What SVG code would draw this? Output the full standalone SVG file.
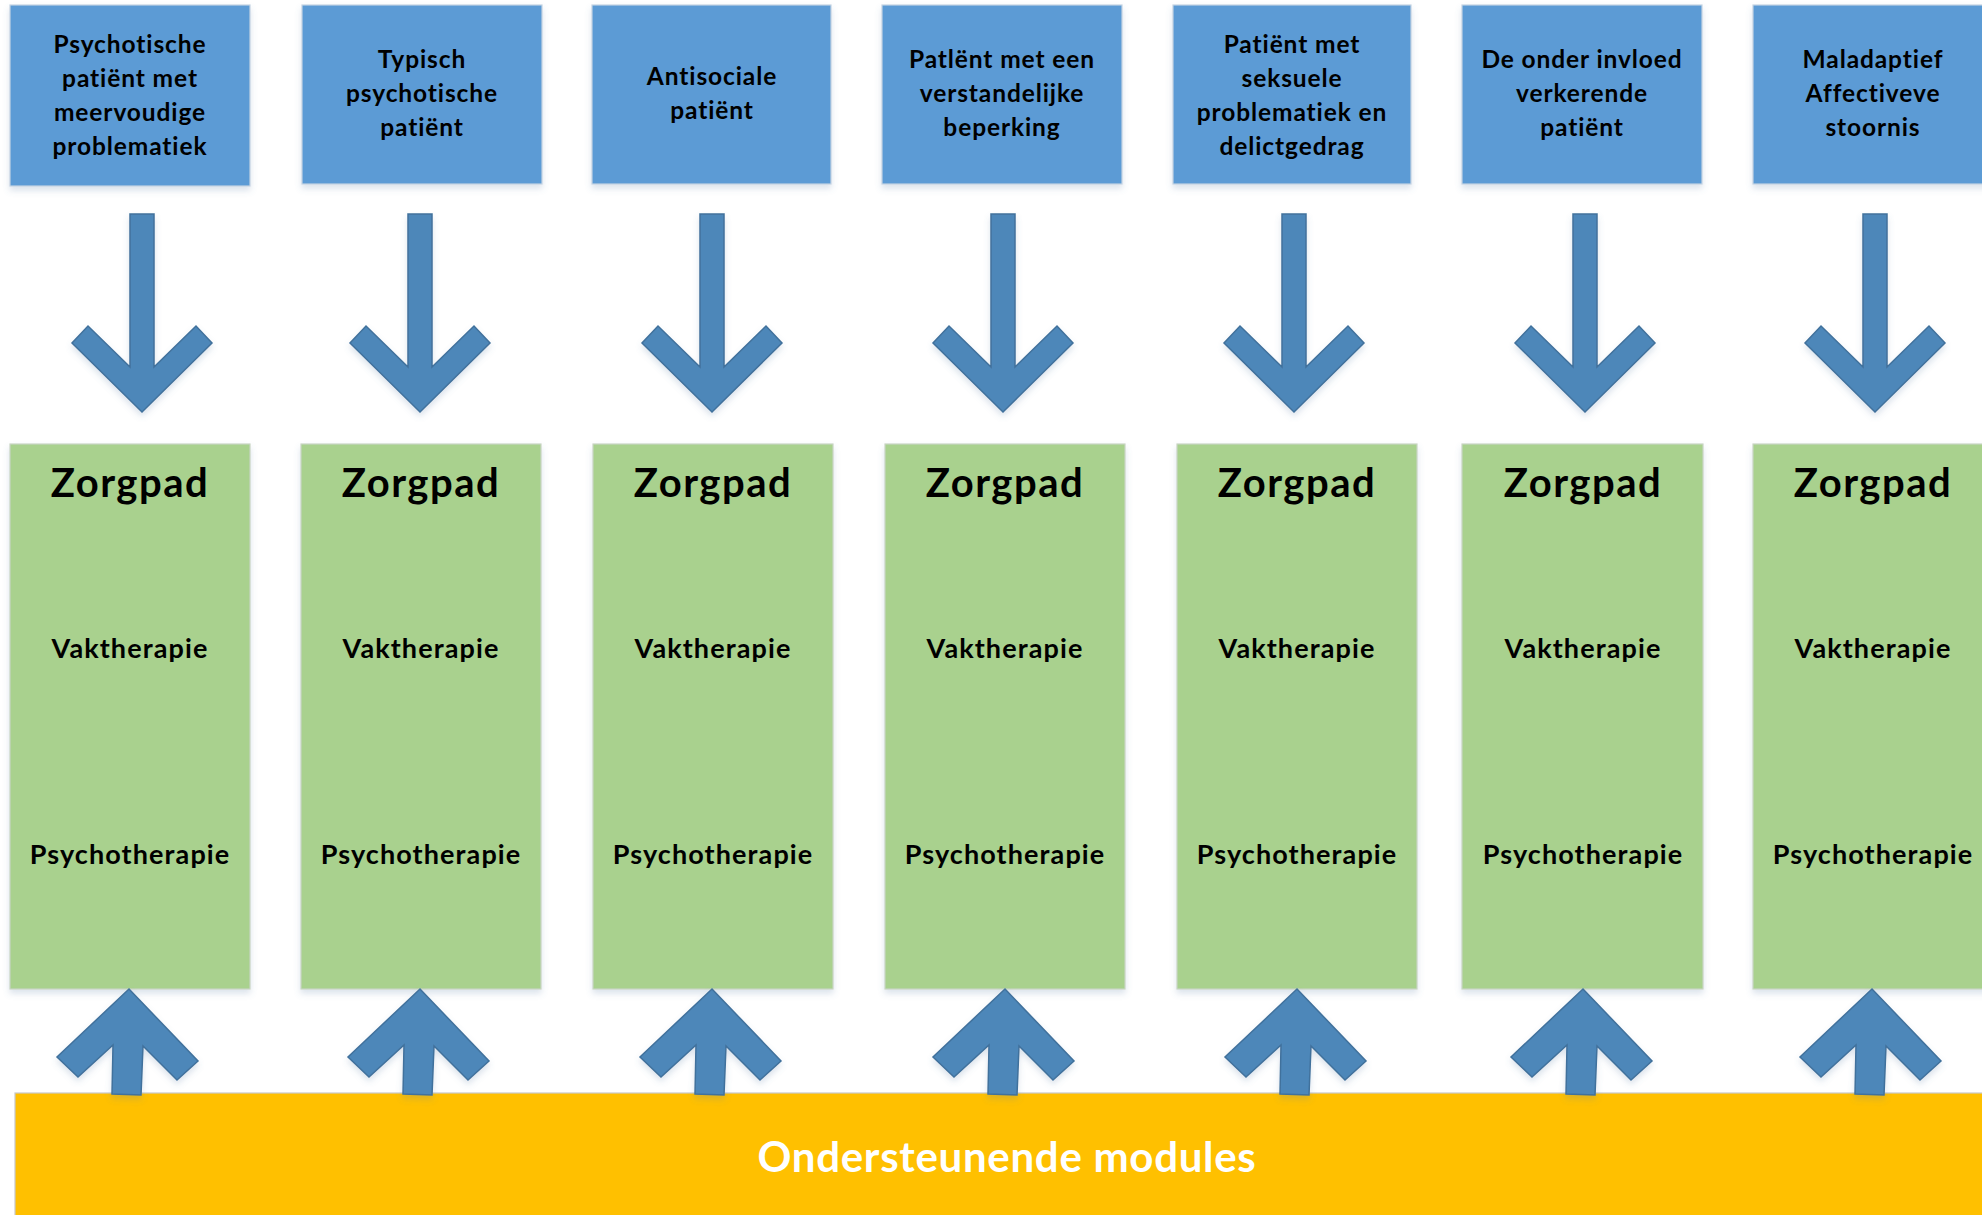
<svg xmlns="http://www.w3.org/2000/svg" width="1982" height="1215" viewBox="0 0 1982 1215">
<defs>
<filter id="sh" x="-10%" y="-10%" width="120%" height="125%">
<feDropShadow dx="0" dy="4" stdDeviation="3" flood-color="#5a7fa8" flood-opacity="0.22"/>
</filter>
<path id="down" d="M-12,214 L12,214 L12,367 L54,326 L70,343 L0,412 L-70,343 L-54,326 L-12,367 Z"/>
<path id="up" d="M0,989 L69,1061 L48,1080 L14,1046 L12,1095 L-17,1094 L-16,1045 L-51,1077 L-72,1057 Z"/>
</defs>
<style>
text{font-family:"Lato","Liberation Sans",sans-serif;font-weight:bold;text-anchor:middle;fill:#000}
.blue{fill:#5B9BD5;stroke:#c3d3e3;stroke-width:1.2;filter:url(#sh)}
.green{fill:#A9D18E;stroke:#c9d4c4;stroke-width:1.2;filter:url(#sh)}
.yellow{fill:#FFC000;stroke:#c8c8c8;stroke-width:1.2}
.t{font-size:24.5px;letter-spacing:0.9px}
.z{font-size:40px;letter-spacing:1.5px}
.s{font-size:27px;letter-spacing:1.1px}
.arrow{fill:#4D87B9;stroke:#41719C;stroke-width:1.5;stroke-linejoin:miter;filter:url(#sh)}
.y{font-size:42px;letter-spacing:0.7px;fill:#fff}
</style>
<rect width="1982" height="1215" fill="#fff"/>

<g id="problem1"><rect class="blue" x="10" y="5" width="240" height="181"/>
<text class="t" x="130" y="53">Psychotische</text><text class="t" x="130" y="87">patiënt met</text><text class="t" x="130" y="121">meervoudige</text><text class="t" x="130" y="155">problematiek</text></g>
<g id="problem2"><rect class="blue" x="302" y="5" width="240" height="179"/>
<text class="t" x="422" y="68">Typisch</text><text class="t" x="422" y="102">psychotische</text><text class="t" x="422" y="136">patiënt</text></g>
<g id="problem3"><rect class="blue" x="592" y="5" width="239" height="179"/>
<text class="t" x="712" y="85">Antisociale</text><text class="t" x="712" y="119">patiënt</text></g>
<g id="problem4"><rect class="blue" x="882" y="5" width="240" height="179"/>
<text class="t" x="1002" y="68">Patlënt met een</text><text class="t" x="1002" y="102">verstandelijke</text><text class="t" x="1002" y="136">beperking</text></g>
<g id="problem5"><rect class="blue" x="1173" y="5" width="238" height="179"/>
<text class="t" x="1292" y="53">Patiënt met</text><text class="t" x="1292" y="87">seksuele</text><text class="t" x="1292" y="121">problematiek en</text><text class="t" x="1292" y="155">delictgedrag</text></g>
<g id="problem6"><rect class="blue" x="1462" y="5" width="240" height="179"/>
<text class="t" x="1582" y="68">De onder invloed</text><text class="t" x="1582" y="102">verkerende</text><text class="t" x="1582" y="136">patiënt</text></g>
<g id="problem7"><rect class="blue" x="1753" y="5" width="240" height="179"/>
<text class="t" x="1873" y="68">Maladaptief</text><text class="t" x="1873" y="102">Affectiveve</text><text class="t" x="1873" y="136">stoornis</text></g>

<g id="zorgpad1"><rect class="green" x="10" y="444" width="240" height="545"/>
<text class="z" x="130" y="497">Zorgpad</text><text class="s" x="130" y="658">Vaktherapie</text><text class="s" x="130" y="864">Psychotherapie</text></g>
<g id="zorgpad2"><rect class="green" x="301" y="444" width="240" height="545"/>
<text class="z" x="421" y="497">Zorgpad</text><text class="s" x="421" y="658">Vaktherapie</text><text class="s" x="421" y="864">Psychotherapie</text></g>
<g id="zorgpad3"><rect class="green" x="593" y="444" width="240" height="545"/>
<text class="z" x="713" y="497">Zorgpad</text><text class="s" x="713" y="658">Vaktherapie</text><text class="s" x="713" y="864">Psychotherapie</text></g>
<g id="zorgpad4"><rect class="green" x="885" y="444" width="240" height="545"/>
<text class="z" x="1005" y="497">Zorgpad</text><text class="s" x="1005" y="658">Vaktherapie</text><text class="s" x="1005" y="864">Psychotherapie</text></g>
<g id="zorgpad5"><rect class="green" x="1177" y="444" width="240" height="545"/>
<text class="z" x="1297" y="497">Zorgpad</text><text class="s" x="1297" y="658">Vaktherapie</text><text class="s" x="1297" y="864">Psychotherapie</text></g>
<g id="zorgpad6"><rect class="green" x="1462" y="444" width="241" height="545"/>
<text class="z" x="1583" y="497">Zorgpad</text><text class="s" x="1583" y="658">Vaktherapie</text><text class="s" x="1583" y="864">Psychotherapie</text></g>
<g id="zorgpad7"><rect class="green" x="1753" y="444" width="240" height="545"/>
<text class="z" x="1873" y="497">Zorgpad</text><text class="s" x="1873" y="658">Vaktherapie</text><text class="s" x="1873" y="864">Psychotherapie</text></g>

<g id="modules"><rect class="yellow" x="15" y="1093" width="1980" height="130"/>
<text class="y" x="1007" y="1172">Ondersteunende modules</text></g>

<g id="connectors">
<use href="#down" class="arrow" x="142"/>
<use href="#down" class="arrow" x="420"/>
<use href="#down" class="arrow" x="712"/>
<use href="#down" class="arrow" x="1003"/>
<use href="#down" class="arrow" x="1294"/>
<use href="#down" class="arrow" x="1585"/>
<use href="#down" class="arrow" x="1875"/>
<use href="#up" class="arrow" x="129"/>
<use href="#up" class="arrow" x="420"/>
<use href="#up" class="arrow" x="712"/>
<use href="#up" class="arrow" x="1005"/>
<use href="#up" class="arrow" x="1297"/>
<use href="#up" class="arrow" x="1583"/>
<use href="#up" class="arrow" x="1872"/>
</g>
</svg>
